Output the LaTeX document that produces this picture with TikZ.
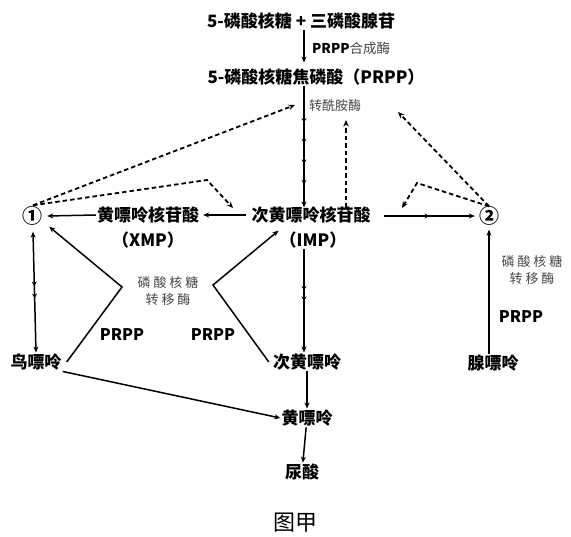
\documentclass[tikz,border=0pt]{standalone}
\usepackage{fontspec}
\setmainfont{Noto Sans CJK SC}
\usetikzlibrary{arrows.meta}
\usetikzlibrary{calc}
\usetikzlibrary{decorations.markings}

\tikzset{
  lbl/.style={font=\bfseries\fontsize{17}{19}\selectfont, inner sep=1pt},
  num/.style={font=\bfseries\fontsize{20}{22}\selectfont, inner sep=0pt},
  enz/.style={font=\fontsize{13}{17}\selectfont, text=black!72, align=center, inner sep=0pt},
  prp/.style={font=\bfseries\fontsize{16}{18}\selectfont, inner sep=1pt},
  conn/.style={line width=1.5pt, -{Stealth[length=6pt,width=5pt]}},
  fb/.style={line width=1.8pt, dash pattern=on 4.5pt off 3pt, -{Stealth[length=6.5pt,width=5.5pt]}},
  multistep/.style={postaction={decorate}, decoration={markings,
      mark=between positions #1 with {\arrow{Stealth[length=4.5pt,width=5pt]}}}},
}

\begin{document}
\begin{tikzpicture}[x=1pt, y=-1pt]
\useasboundingbox (0,0) rectangle (571,537);
\coordinate (col) at (304,0);

% metabolites
\node[lbl] (src)   at (301,21)  {5-磷酸核糖 + 三磷酸腺苷};
\node[lbl] (prpp)  at (316,77)  {5-磷酸核糖焦磷酸（PRPP）};
\node[lbl] (imp)   at (311,215) {次黄嘌呤核苷酸};
\node[lbl] (impab) at (313,240) {（IMP）};
\node[lbl] (xmp)   at (148,215) {黄嘌呤核苷酸};
\node[lbl] (xmpab) at (148,240) {（XMP）};
\node[num] (c1)    at (33,216)  {①};
\node[num] (c2)    at (489,216) {②};
\node[lbl] (gua)   at (36,362)  {鸟嘌呤};
\node[lbl] (hyp)   at (307,362) {次黄嘌呤};
\node[lbl] (xan)   at (307,418) {黄嘌呤};
\node[lbl] (uric)  at (302,472) {尿酸};
\node[lbl] (ade)   at (493,363) {腺嘌呤};

% enzymes
\node[anchor=west, inner sep=0pt] (syn) at (312,48)
  {\bfseries\fontsize{13.5}{15}\selectfont PRPP\mdseries\color{black!72}合成酶};
\node[enz, anchor=west] (amid) at (309,106) {转酰胺酶};
\node[enz] (trL) at (168,291) {磷 酸 核 糖\\转 移 酶};
\node[enz] (trR) at (532,270) {磷 酸 核 糖\\转 移 酶};
\node[prp] (pL) at (122,335) {PRPP};
\node[prp] (pM) at (213,335) {PRPP};
\node[prp] (pR) at (521,317) {PRPP};

% free ends and bends
\coordinate (tipA) at (295,105);
\coordinate (tipB) at (398,112);
\coordinate (tipC) at (346,120);
\coordinate (bendL) at (207,180);
\coordinate (endL) at (233,208);
\coordinate (bendR) at (417,183);
\coordinate (endR) at (402,208);
\coordinate (vL) at (122,287);
\coordinate (vM) at (213,285);

% main pathway
\draw[conn] (src.south -| col) -- ([yshift=5pt]prpp.north -| col);
\draw[conn, multistep={0.3 and 0.85 step 0.17}] (prpp.south -| col) -- ([yshift=-2pt]imp.north -| col);
\draw[conn] ([xshift=-4pt]imp.west) -- ([xshift=3pt]xmp.east);
\draw[conn] (xmp.west) -- ([xshift=4pt]c1.east);
\draw[conn, multistep={0.4 and 0.5 step 0.1}] (impab.south -| col) -- (hyp.north -| col);
\draw[conn, multistep={0.5 and 0.5 step 0.1}] ([xshift=12pt]imp.east |- c2) -- ([xshift=-4pt]c2.west);
\draw[conn] (hyp) -- (xan);
\draw[conn] (xan) -- (uric);
\draw[conn] (gua.south east) -- (xan.west);
\draw[{Stealth[length=6pt,width=5pt]}-{Stealth[length=6pt,width=5pt]}, line width=1.5pt,
      multistep={0.45 and 0.55 step 0.1}] ([yshift=-6pt]c1.south) -- (gua.north);

% salvage
\draw[conn] ([xshift=4pt]gua.east) -- (vL) -- ([xshift=6pt,yshift=-1pt]c1.south east);
\draw[conn] ([xshift=-3pt]hyp.west) -- (vM) -- (impab.north west);
\draw[conn] (ade.north -| c2) -- ([yshift=-4pt]c2.south);

% feedback
\draw[fb] ([yshift=1pt]c1.north) -- (tipA);
\draw[fb] ([yshift=1pt]c1.north) -- (bendL) -- (endL);
\draw[fb] (c2.north) -- (tipB);
\draw[fb] (c2.north) -- (bendR) -- (endR);
\draw[fb] ([yshift=-2pt]imp.north -| tipC) -- (tipC);

\node[font=\fontsize{22}{24}\selectfont] (cap) at (295,523) {图甲};
\end{tikzpicture}
\end{document}
